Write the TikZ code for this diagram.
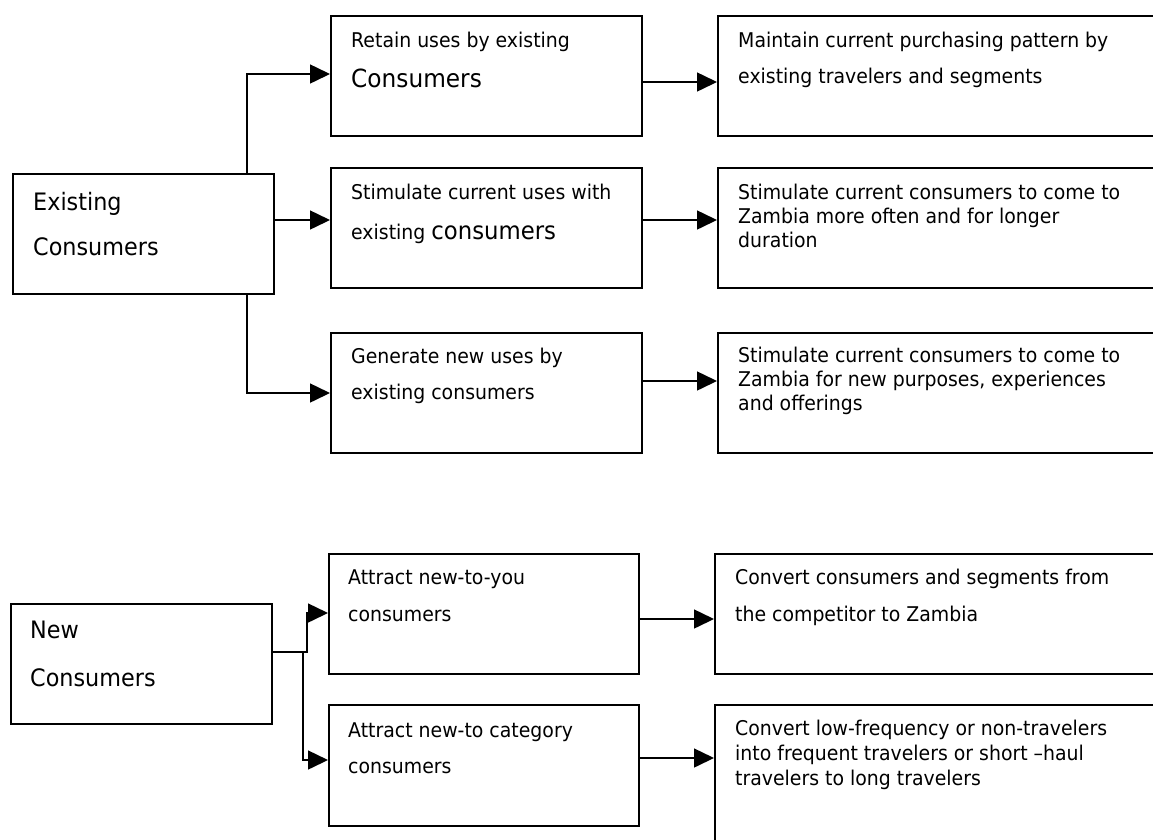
\documentclass[tikz,border=0pt]{standalone}
\usepackage{fontspec}
\setmainfont{DejaVu Sans}[FakeStretch=0.93]
\usetikzlibrary{arrows.meta}
\usetikzlibrary{calc}
\usetikzlibrary{positioning}
\providecommand*{\pgfmathsetnewmacro}[2]{%
    \newcommand*{#1}{}%
    \pgfmathsetmacro{#1}{#2}%
}
\newcommand*{\boxfont}[2]{\fontsize{#1}{#2}\selectfont}

\tikzset{
    box/.style     = {draw, rectangle, line width=1.8pt, inner sep=0pt, anchor=north west},
    boxtext/.style = {anchor=base west, align=left, inner sep=0pt},
    link/.style    = {line width=1.5pt, -{Triangle[length=20pt, width=19pt]}},
}

\begin{document}
\begin{tikzpicture}[x=1pt, y=-1pt, black]

\useasboundingbox[clip] (0,0) rectangle (1153,839);

\pgfmathsetnewmacro{\rowh}{120}
\pgfmathsetnewmacro{\midw}{311}
\pgfmathsetnewmacro{\farw}{450}

% existing consumers
\node[box, minimum width=261pt, minimum height=\rowh pt] (exist) at (12,173) {};
\node[box, minimum width=\midw pt, minimum height=\rowh pt] (ret)  at (330,15)  {};
\node[box, minimum width=\midw pt, minimum height=\rowh pt] (stim) at (330,167) {};
\node[box, minimum width=\midw pt, minimum height=\rowh pt] (gen)  at (330,332) {};
\node[box, minimum width=\farw pt, minimum height=\rowh pt] (keep)  at (717,15)  {};
\node[box, minimum width=\farw pt, minimum height=\rowh pt] (often) at (717,167) {};
\node[box, minimum width=\farw pt, minimum height=\rowh pt] (purp)  at (717,332) {};

% texts sit on the baseline of their last line
\node[boxtext, font=\boxfont{24}{45}] (existtext) at (33,255) {Existing\\Consumers};
\node[boxtext, font=\boxfont{20.3}{40}] (rettext) at (351,87)
    {Retain uses by existing\\{\boxfont{25}{40}Consumers}};
\node[boxtext, font=\boxfont{20.3}{40}] (stimtext) at (351,239)
    {Stimulate current uses with\\existing {\boxfont{24.5}{40}consumers}};
\node[boxtext, font=\boxfont{20.3}{36}] (gentext) at (351,399)
    {Generate new uses by\\existing consumers};
\node[boxtext, font=\boxfont{20.3}{36}] (keeptext) at (738,83)
    {Maintain current purchasing pattern by\\existing travelers and segments};
\node[boxtext, font=\boxfont{20.3}{24}] (oftentext) at (738,247)
    {Stimulate current consumers to come to\\Zambia more often and for longer\\duration};
\node[boxtext, font=\boxfont{20.3}{24}] (purptext) at (738,410)
    {Stimulate current consumers to come to\\Zambia for new purposes, experiences\\and offerings};

% new consumers
\node[box, minimum width=261pt, minimum height=\rowh pt] (new) at (10,603) {};
\node[box, minimum width=310pt, minimum height=\rowh pt] (toyou) at (328,553) {};
\node[box, minimum width=310pt, minimum height=121pt]    (tocat) at (328,704) {};
\node[box, minimum width=\farw pt, minimum height=\rowh pt] (conv) at (714,553) {};
\node[box, minimum width=\farw pt, minimum height=150pt]    (freq) at (714,704) {};

\node[boxtext, font=\boxfont{24}{48}] (newtext) at (30,686) {New\\Consumers};
\node[boxtext, font=\boxfont{20.3}{37}] (toyoutext) at (348,621)
    {Attract new-to-you\\consumers};
\node[boxtext, font=\boxfont{20.3}{36}] (tocattext) at (348,773)
    {Attract new-to category\\consumers};
\node[boxtext, font=\boxfont{20.3}{37}] (convtext) at (735,621)
    {Convert consumers and segments from\\the competitor to Zambia};
\node[boxtext, font=\boxfont{20.3}{25}] (freqtext) at (735,785)
    {Convert low-frequency or non-travelers\\into frequent travelers or short –haul\\travelers to long travelers};

% branches
\coordinate (branchE) at (247,0);
\coordinate (joinup)  at (307,613);
\coordinate (joinlow) at (303,652);

\draw[link] (exist.north -| branchE) |- (ret.west |- 0,74);
\draw[link] (exist.east |- 0,220) -- (stim.west |- 0,220);
\draw[link] (exist.south -| branchE) |- (gen.west |- 0,393);

\draw[link] (new.east |- joinlow) -| (joinup) -- (toyou.west |- joinup);
\draw[link] (joinlow) |- (tocat.west |- 0,760);

\foreach \FROM/\TO/\Y in {
                ret/keep/82,
                stim/often/220,
                gen/purp/381,
                toyou/conv/619,
                tocat/freq/758}{
    \draw[link] (\FROM.east |- 0,\Y) -- (\TO.west |- 0,\Y);
    };

\end{tikzpicture}
\end{document}
